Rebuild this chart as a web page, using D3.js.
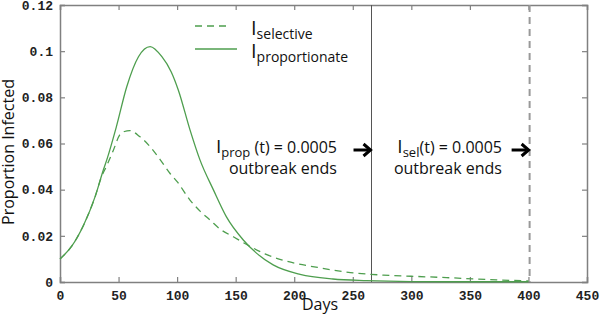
<!DOCTYPE html>
<html>
<head>
<meta charset="utf-8">
<script src="https://cdn.jsdelivr.net/npm/d3@7"></script>
<style>
  body { margin: 0; background: #fff; overflow: hidden; }
  .tick text { font-family: 'Liberation Mono', monospace; font-weight: bold; font-size: 13px; fill: #222; }
  .label { font-family: 'Open Sans', sans-serif; fill: #111; }
</style>
</head>
<body>
<svg width="600" height="318"></svg>
<script>
// proportionate mixing curve
const propDays   = [0, 10, 20, 30, 37, 40, 48, 57, 67, 77, 87, 95, 101, 111, 119.5, 131, 142, 156.5, 168, 182, 205, 233, 262, 300, 350, 400];
const propValues = [0.010, 0.0155, 0.0245, 0.037, 0.0485, 0.053, 0.067, 0.0846, 0.0976, 0.102, 0.0976, 0.091, 0.0832, 0.0659, 0.0529, 0.0399, 0.0283, 0.0182, 0.0124, 0.0074, 0.0033, 0.0013, 0.0006, 0.0002, 0.0001, 0.0001];

// selective mixing curve
const selDays   = [0, 10, 20, 30, 35, 40, 45.5, 51, 55, 59.5, 68, 77, 85.5, 94, 100, 111, 120, 128, 137, 148, 162, 175, 190, 220, 248, 276, 300, 330, 373, 400];
const selValues = [0.010, 0.0155, 0.0245, 0.037, 0.045, 0.0505, 0.057, 0.0637, 0.0652, 0.0656, 0.063, 0.0586, 0.053, 0.047, 0.0435, 0.0355, 0.0305, 0.0269, 0.0228, 0.0196, 0.0155, 0.0122, 0.0095, 0.0063, 0.0041, 0.0030, 0.0025, 0.0019, 0.0009, 0.0005];

const xTicks = [0, 50, 100, 150, 200, 250, 300, 350, 400, 450];
const yTicks = [0, 0.02, 0.04, 0.06, 0.08, 0.1, 0.12];

const propEnd = 266;  // day I_prop hits 0.0005
const selEnd = 401;   // day I_sel hits 0.0005

const svg = d3.select('svg');
const margin = { top: 5, right: 13, bottom: 36, left: 60 };
const innerWidth = +svg.attr('width') - margin.left - margin.right;
const innerHeight = +svg.attr('height') - margin.top - margin.bottom;

const green = '#4e9e4e';
const axisColor = '#808080';

const xScale = d3.scaleLinear().domain([0, 450]).range([0, innerWidth]);
const yScale = d3.scaleLinear().domain([0, 0.12]).range([innerHeight, 0]);

const g = svg.append('g').attr('transform', `translate(${margin.left},${margin.top})`);

const fmt = d => d === 0 ? '0' : String(+d.toFixed(2));

// bottom + left with labels, top + right mirror ticks
const xAxisG = g.append('g').attr('transform', `translate(0,${innerHeight})`)
  .call(d3.axisBottom(xScale).tickValues(xTicks).tickSize(-5).tickPadding(9).tickFormat(d3.format('d')));
const yAxisG = g.append('g')
  .call(d3.axisLeft(yScale).tickValues(yTicks).tickSize(-5).tickPadding(7).tickFormat(fmt));
const topG = g.append('g')
  .call(d3.axisTop(xScale).tickValues(xTicks).tickSize(-5).tickFormat(''));
const rightG = g.append('g').attr('transform', `translate(${innerWidth},0)`)
  .call(d3.axisRight(yScale).tickValues(yTicks).tickSize(-5).tickFormat(''));

[xAxisG, yAxisG, topG, rightG].forEach(a => {
  a.select('.domain').attr('stroke', axisColor).attr('stroke-width', 1.5);
  a.selectAll('.tick line').attr('stroke', axisColor).attr('stroke-width', 1.2);
});

// end-of-outbreak lines
g.append('line')
  .attr('x1', xScale(propEnd)).attr('x2', xScale(propEnd))
  .attr('y1', 0).attr('y2', innerHeight)
  .attr('stroke', '#555').attr('stroke-width', 1);
g.append('line')
  .attr('x1', xScale(selEnd)).attr('x2', xScale(selEnd))
  .attr('y1', 0).attr('y2', innerHeight)
  .attr('stroke', '#999').attr('stroke-width', 2).attr('stroke-dasharray', '7,5');

const line = d3.line()
  .x(d => xScale(d[0]))
  .y(d => yScale(d[1]))
  .curve(d3.curveMonotoneX);

g.append('path')
  .attr('d', line(d3.zip(selDays, selValues)))
  .attr('fill', 'none').attr('stroke', green).attr('stroke-width', 1.3)
  .attr('stroke-dasharray', '7,5');
g.append('path')
  .attr('d', line(d3.zip(propDays, propValues)))
  .attr('fill', 'none').attr('stroke', green).attr('stroke-width', 1.3);

// axis labels
svg.append('text').attr('class', 'label')
  .attr('text-anchor', 'middle')
  .attr('transform', 'translate(14,152) rotate(-90)')
  .style('font-size', '16px')
  .text('Proportion Infected');
svg.append('text').attr('class', 'label')
  .attr('text-anchor', 'middle')
  .attr('x', 320).attr('y', 310)
  .style('font-size', '16px')
  .text('Days');

// legend
const legend = svg.append('g').attr('transform', 'translate(195,0)');
const legendItems = [
  { sub: 'selective', dash: '7,5', y: 26 },
  { sub: 'proportionate', dash: null, y: 49 }
];
legendItems.forEach(d => {
  legend.append('line')
    .attr('x1', 0).attr('x2', d.dash ? 36 : 42)
    .attr('y1', d.y).attr('y2', d.y)
    .attr('stroke', green).attr('stroke-width', 1.3)
    .attr('stroke-dasharray', d.dash);
  const t = legend.append('text').attr('class', 'label')
    .attr('x', 56).attr('y', d.y + 9)
    .style('font-size', '20px');
  t.append('tspan').text('I');
  t.append('tspan').attr('dy', 4).style('font-size', '14px').text(d.sub);
});

// annotations
const notes = [
  { main: 'I', sub: 'prop', rest: ' (t) = 0.0005', day: propEnd, right: 337 },
  { main: 'I', sub: 'sel', rest: '(t) = 0.0005', day: selEnd, right: 502 }
];
notes.forEach(n => {
  const t = svg.append('text').attr('class', 'label')
    .attr('x', n.right).attr('y', 153)
    .attr('text-anchor', 'end')
    .style('font-size', '16px');
  t.append('tspan').style('font-size', '19px').text(n.main);
  t.append('tspan').attr('dy', 4).style('font-size', '13px').text(n.sub);
  t.append('tspan').attr('dy', -4).text(n.rest);
  svg.append('text').attr('class', 'label')
    .attr('x', n.right).attr('y', 174)
    .attr('text-anchor', 'end')
    .style('font-size', '16px')
    .text('outbreak ends');
  // arrow
  const ax = margin.left + xScale(n.day);
  const ay = 150;
  svg.append('line')
    .attr('x1', ax - 18).attr('x2', ax - 3)
    .attr('y1', ay).attr('y2', ay)
    .attr('stroke', '#000').attr('stroke-width', 3);
  svg.append('path')
    .attr('d', `M${ax - 8},${ay - 6} L${ax - 1},${ay} L${ax - 8},${ay + 6}`)
    .attr('fill', 'none').attr('stroke', '#000').attr('stroke-width', 3);
});
</script>
</body>
</html>
